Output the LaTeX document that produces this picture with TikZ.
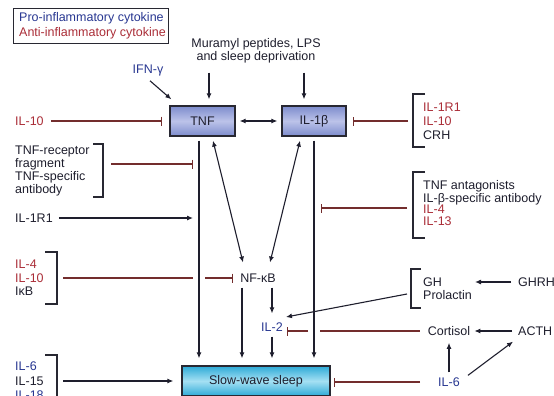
\documentclass[tikz,border=0pt]{standalone}
\usepackage{fontspec}
\setmainfont{Liberation Sans}
\usetikzlibrary{arrows.meta,calc}
\definecolor{problue}{RGB}{40,55,145}
\definecolor{antired}{RGB}{170,45,55}
\definecolor{inhcol}{RGB}{115,45,45}
\definecolor{txt}{RGB}{30,30,45}
\definecolor{edge}{RGB}{40,40,50}
\definecolor{tnfout}{RGB}{125,140,205}
\definecolor{tnfin}{RGB}{188,195,233}
\definecolor{swsout}{RGB}{45,170,215}
\definecolor{swsin}{RGB}{165,224,243}
\begin{document}
\begin{tikzpicture}[x=1pt,y=-1pt,
 lbl/.style={font=\fontsize{12.5}{13}\selectfont, inner sep=0pt, text=txt},
 pro/.style={lbl,text=problue},
 anti/.style={lbl,text=antired},
 grp/.style={lbl, align=left, anchor=west, font=\fontsize{12.5}{#1}\selectfont},
 arr/.style={draw=txt, line width=1.1pt, -{Latex[length=6pt,width=5pt]}},
 darr/.style={draw=txt, line width=1.1pt, {Latex[length=6pt,width=5pt]}-{Latex[length=6pt,width=5pt]}},
 inhline/.style={draw=inhcol, line width=1.1pt},
 inh/.style={inhline, -{Bar[width=9pt,line width=1.3pt]}},
 brk/.style={draw=edge, line width=1.2pt},
 cyto/.style={lbl, draw=edge, line width=1.3pt, minimum width=65pt, minimum height=30pt, top color=tnfout, bottom color=tnfout, middle color=tnfin},
 swsbox/.style={lbl, draw=edge, line width=1.3pt, minimum width=148pt, minimum height=30pt, top color=swsout, bottom color=swsout, middle color=swsin},
]
\useasboundingbox (0,0) rectangle (554,396);
\clip (0,0) rectangle (554,396);

% legend
\node[draw=edge, line width=1pt, minimum width=155pt, minimum height=35pt, inner sep=0pt, anchor=north west] (legend) at (13,8) {};
\node[pro, anchor=west] (lpro) at (19,18) {Pro-inflammatory cytokine};
\node[anti, anchor=west] (lanti) at (19,33) {Anti-inflammatory cytokine};

% nodes
\node[lbl, align=center] (mur) at (256,51) {Muramyl peptides, LPS\\and sleep deprivation};
\node[cyto] (tnf) at (202.5,121) {TNF};
\node[cyto, minimum width=64pt] (il1b) at (314,121) {IL-1β};
\node[pro] (ifn) at (148,70) {IFN-γ};
\node[anti, anchor=west] (l10) at (15,121) {IL-10};
\node[grp=12.7] (trf) at (15,171) {TNF-receptor\\fragment\\TNF-specific\\antibody};
\node[lbl, anchor=west] (l1r1) at (15,218) {IL-1R1};
\node[grp=13.5] (g3) at (15,278) {\textcolor{antired}{IL-4}\\\textcolor{antired}{IL-10}\\IκB};
\node[grp=14.5] (g4) at (15,381) {\textcolor{problue}{IL-6}\\IL-15\\\textcolor{problue}{IL-18}};
\node[grp=14] (r1) at (423,121) {\textcolor{antired}{IL-1R1}\\\textcolor{antired}{IL-10}\\CRH};
\node[grp=11.5] (r2) at (423,203) {TNF antagonists\\IL-β-specific antibody\\\textcolor{antired}{IL-4}\\\textcolor{antired}{IL-13}};
\node[lbl] (nfkb) at (258,278) {NF-κB};
\node[pro] (il2) at (272,327) {IL-2};
\node[swsbox] (sws) at (256,381) {Slow-wave sleep};
\node[grp=13] (gh) at (423,288.5) {GH\\Prolactin};
\node[lbl, anchor=west] (ghrh) at (518,282) {GHRH};
\node[lbl] (cort) at (449,331) {Cortisol};
\node[lbl, anchor=west] (acth) at (518,331) {ACTH};
\node[pro] (il6r) at (449,382) {IL-6};

% inputs
\draw[arr] ($(mur.south -| tnf.north)+(6.5,9)$) -- ($(tnf.north)+(6.5,-6)$);
\draw[arr] ($(mur.south -| il1b.north)+(-10,9)$) -- ($(il1b.north)+(-10,-6)$);
\draw[arr] ($(ifn.south)+(2,5)$) -- ($(tnf.north west)+(2,-6)$);
\draw[darr] ($(tnf.east)+(4,0)$) -- ($(il1b.west)+(-4,0)$);
\draw[inh] ($(l10.east)+(7,0)$) -- ($(l10.east -| tnf.west)+(-7,0)$);

% right groups
\coordinate (c1) at (408,121);
\draw[inh] (c1) -- ($(c1 -| il1b.east)+(6,0)$);
\draw[brk] (425,94) -- (413,94) -- (413,147) -- (425,147);
\coordinate (c2) at (407,208);
\draw[inh] (c2) -- ($(c2 -| il1b.south)+(7,0)$);
\draw[brk] (425,172) -- (413,172) -- (413,238) -- (425,238);

% left groups
\draw[brk] (93,144) -- (103,144) -- (103,197) -- (93,197);
\coordinate (c3) at (111,164);
\coordinate (tv) at ($(tnf.south)+(-3.5,0)$);
\draw[inh] (c3) -- ($(c3 -| tv)+(-6,0)$);
\draw[arr] ($(l1r1.east)+(6,0)$) -- ($(l1r1.east -| tv)+(-6,0)$);

% verticals
\draw[arr] ($(tv)+(0,4)$) -- ($(tv |- sws.north)+(0,-7)$);
\draw[arr] ($(il1b.south)+(0,4)$) -- ($(il1b.south |- sws.north)+(0,-7)$);

% diagonals
\draw[darr] ($(tnf.south)+(10.5,4)$) -- ($(nfkb.north)+(-15,-11)$);
\draw[darr] ($(il1b.south)+(-14,4)$) -- ($(nfkb.north)+(12,-11)$);

% IL-4 group
\draw[brk] (45,252) -- (57,252) -- (57,304) -- (45,304);
\coordinate (c4) at (63,278);
\draw[inhline] (c4) -- ($(c4 -| tv)+(-6,0)$);
\draw[inh] ($(c4 -| tv)+(6,0)$) -- ($(c4 -| nfkb.west)+(-7,0)$);

% NF-kB, IL-2
\coordinate (n1) at ($(nfkb.south)+(-16,5)$);
\draw[arr] (n1) -- ($(n1 |- sws.north)+(0,-7)$);
\draw[arr] ($(nfkb.south -| il2.north)+(0,5)$) -- ($(il2.north)+(0,-9)$);
\draw[arr] ($(il2.south)+(0,5)$) -- ($(il2.south |- sws.north)+(0,-7)$);

% bottom-left
\draw[brk] (45,355) -- (57,355) -- (57,400);
\coordinate (c5) at (63,381);
\draw[arr] (c5) -- ($(c5 -| sws.west)+(-8,0)$);

% GH group
\draw[brk] (421,269) -- (411,269) -- (411,308) -- (421,308);
\draw[arr] ($(ghrh.west)+(-7,0)$) -- ($(ghrh.west)+(-43,0)$);
\coordinate (c6) at (407,294);
\draw[arr] (c6) -- ($(il2.east)+(3,-10)$);

% cortisol
\draw[arr] ($(acth.west)+(-6,0)$) -- ($(cort.east)+(4,0)$);
\draw[inhline] ($(cort.west)+(-8,0)$) -- ($(cort.west -| il1b.south)+(6,0)$);
\draw[inh] ($(cort.west -| il1b.south)+(-6,0)$) -- ($(cort.west -| il2.east)+(4,0)$);

% IL-6
\draw[arr] ($(il6r.north)+(0,-5)$) -- ($(cort.south)+(0,7)$);
\draw[arr] ($(il6r.north east)+(8,-2)$) -- ($(acth.south west)+(-5,6)$);
\draw[inh] ($(il6r.west)+(-18,0)$) -- ($(il6r.west -| sws.east)+(3,0)$);
\end{tikzpicture}
\end{document}
